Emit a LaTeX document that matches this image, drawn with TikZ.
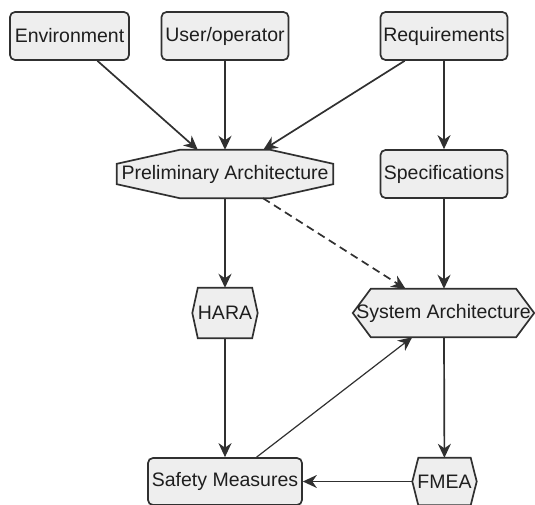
\documentclass[tikz,border=0pt]{standalone}
\usepackage{fontspec}
\setmainfont{Liberation Sans}
\usetikzlibrary{arrows.meta,positioning,backgrounds}

\definecolor{boxfill}{HTML}{EEEEEE}
\definecolor{boxline}{HTML}{303030}
\definecolor{boxtext}{HTML}{1E1E1E}

\tikzset{
  outline/.style={draw=boxline,fill=boxfill,line width=1.7pt},
  box/.style={outline,rounded corners=5pt,inner sep=0pt,minimum height=48pt},
  plain/.style={inner sep=0pt,minimum height=48pt},
  link/.style={draw=boxline,line width=1.7pt,
    -{Stealth[length=14pt,width=13pt,inset=4.5pt]}}
}

% outline with cut corners, drawn round a plain node
\newcommand{\octoutline}[3]{%
  \draw[outline] ([xshift=#2]#1.north west) -- ([xshift=-#2]#1.north east)
    -- ([yshift=-#3]#1.north east) -- ([yshift=#3]#1.south east)
    -- ([xshift=-#2]#1.south east) -- ([xshift=#2]#1.south west)
    -- ([yshift=#3]#1.south west) -- ([yshift=-#3]#1.north west) -- cycle;}
\newcommand{\hexoutline}[2]{%
  \draw[outline] ([xshift=#2]#1.north west) -- ([xshift=-#2]#1.north east)
    -- (#1.east) -- ([xshift=-#2]#1.south east)
    -- ([xshift=#2]#1.south west) -- (#1.west) -- cycle;}

\begin{document}
\begin{tikzpicture}[x=1pt,y=-1pt,on grid,
    font=\fontsize{19.5}{23}\selectfont,text=boxtext]
  \useasboundingbox (0,0) rectangle (535,505);

  \node (env)
        [box,minimum width=119pt] at (69.5,36)
        {Environment};
  \node (user)
        [box,minimum width=127pt,right=155.5pt of env]
        {User/operator};
  \node (req)
        [box,minimum width=127pt,right=219pt of user]
        {Requirements};
  \node (prelim)
        [plain,minimum width=216pt,below=138pt of user]
        {Preliminary Architecture};
  \node (spec)
        [box,minimum width=127pt,below=138pt of req]
        {Specifications};
  \node (hara)
        [plain,minimum width=65pt,minimum height=50pt,below=139pt of prelim]
        {HARA};
  \node (sysarch)
        [plain,minimum width=181pt,below=139pt of spec,xshift=-0.5pt]
        {System Architecture};
  \node (safety)
        [box,minimum width=154pt,minimum height=47pt,below=168.5pt of hara]
        {Safety Measures};
  \node (fmea)
        [plain,minimum width=64pt,minimum height=47pt,below=168.5pt of sysarch,xshift=1pt]
        {FMEA};

  \begin{scope}[on background layer]
    \octoutline{prelim}{63pt}{14pt}
    \hexoutline{hara}{5.5pt}
    \hexoutline{sysarch}{18pt}
    \hexoutline{fmea}{6pt}
  \end{scope}

  \draw[link] (env) -- (prelim);
  \draw[link] (user) -- (prelim);
  \draw[link] (req) -- (prelim);
  \draw[link] (req) -- (spec);
  \draw[link] (prelim) -- (hara);
  \draw[link,dash pattern=on 8pt off 5pt] (prelim) -- (sysarch);
  \draw[link] (spec) -- (sysarch.north -| spec);
  \draw[link] (hara) -- (safety);
  \draw[link,line width=1.2pt] (safety) -- (sysarch);
  \draw[link] (sysarch.south -| spec) -- (fmea);
  \draw[link] (fmea) -- (safety);
\end{tikzpicture}
\end{document}
